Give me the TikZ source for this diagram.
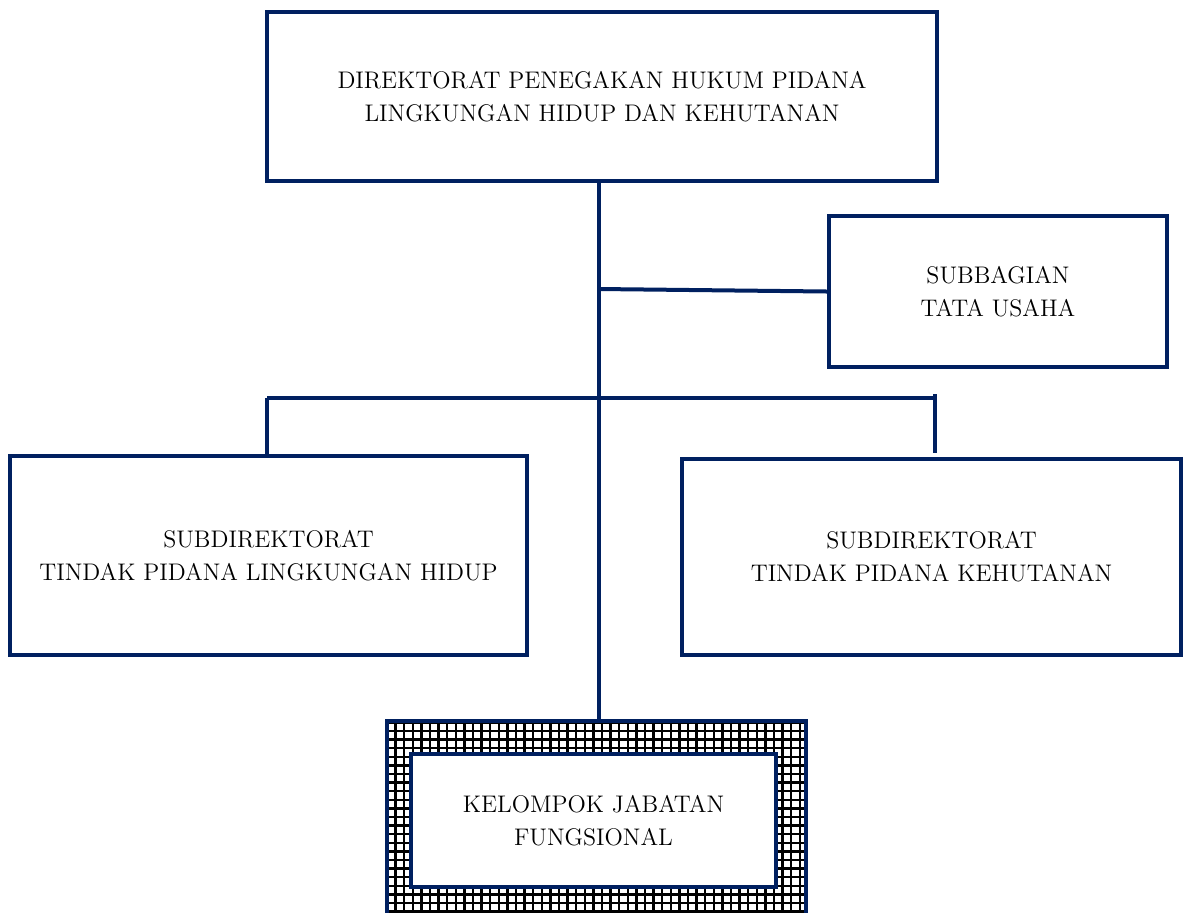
\documentclass[tikz,border=0pt]{standalone}
\usepackage{xcolor}
\definecolor{navy}{HTML}{002060}
\tikzset{
  box/.style={draw=navy, line width=2pt, fill=white, inner sep=0pt, align=center,
    font=\fontsize{12}{16.5}\selectfont},
  link/.style={draw=navy, line width=2pt},
  gridline/.style={draw=black, line width=1.2pt},
}
\begin{document}
\begin{tikzpicture}[x=0.5pt,y=0.5pt]
\useasboundingbox (0,0) rectangle (1183,-912);
% boxes
\node[box, minimum width=335pt, minimum height=84.5pt] (top) at (602,-96.5)
  {DIREKTORAT PENEGAKAN HUKUM PIDANA\\LINGKUNGAN HIDUP DAN KEHUTANAN};
\node[box, minimum width=169pt, minimum height=75.5pt] (sub) at (998,-291.5)
  {SUBBAGIAN\\TATA USAHA};
\node[box, minimum width=258.5pt, minimum height=99.5pt] (left) at (268.5,-555.5)
  {SUBDIREKTORAT\\TINDAK PIDANA LINGKUNGAN HIDUP};
\node[box, minimum width=249.5pt, minimum height=98pt] (right) at (931.5,-557)
  {SUBDIREKTORAT\\TINDAK PIDANA KEHUTANAN};
% hatched frame of the functional group
\coordinate (frNW) at (387,-721);
\coordinate (frSE) at (806,-920);
\begin{scope}
  \clip (frNW) rectangle (frSE);
  \fill[white] (frNW) rectangle (frSE);
  \draw[gridline, step=4.3pt] (frNW) grid (frSE);
\end{scope}
\draw[link] (frNW) rectangle (frSE);
\node[box, minimum width=182.5pt, minimum height=66.5pt] (fung) at (593.5,-820.5)
  {KELOMPOK JABATAN\\FUNGSIONAL};
% connectors
\coordinate (j1) at (599,-289);
\coordinate (jl) at (267,-398);
\coordinate (jr) at (935,-398);
\coordinate (jrt) at (935,-394);
\coordinate (jre) at (935,-453);
\coordinate (jb) at (599,-721);
\draw[link] (top.south -| j1) -- (jb);
\draw[link] (j1) -- (sub.west);
\draw[link] (jl) -- (jr);
\draw[link] (jl) -- (left.north -| jl);
\draw[link] (jrt) -- (jre);
\end{tikzpicture}
\end{document}
